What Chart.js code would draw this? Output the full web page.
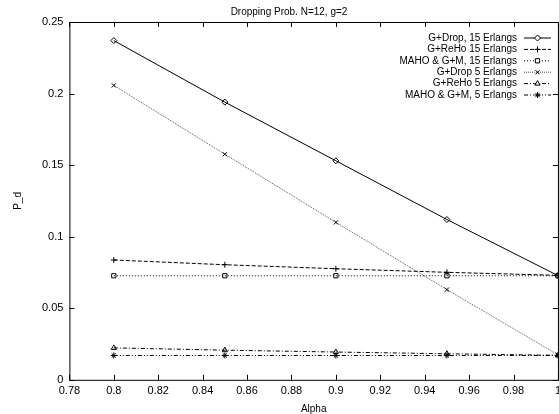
<!DOCTYPE html>
<html>
<head>
<meta charset="utf-8">
<script src="https://cdn.jsdelivr.net/npm/chart.js@4.4.1/dist/chart.umd.min.js"></script>
<style>
  html, body { margin: 0; padding: 0; background: #fff; overflow: hidden; }
  #wrap { width: 566px; height: 414px; position: relative; }
</style>
</head>
<body>
<div id="wrap"><canvas id="grafico"></canvas></div>
<script>
// data
const alpha = [0.8, 0.85, 0.9, 0.95, 1.0];
const gDrop15 = [0.237, 0.194, 0.153, 0.112, 0.0728];
const gReho15 = [0.0837, 0.0804, 0.0776, 0.0751, 0.0730];
const maho15 = [0.0727, 0.0727, 0.0727, 0.0727, 0.0727];
const gDrop5 = [0.2057, 0.1576, 0.110, 0.063, 0.0175];
const gReho5 = [0.0223, 0.0207, 0.0194, 0.0182, 0.0171];
const maho5 = [0.0170, 0.0170, 0.0170, 0.0170, 0.0170];

const seriesNames = [
  'G+Drop, 15 Erlangs',
  'G+ReHo 15 Erlangs',
  'MAHO & G+M, 15 Erlangs',
  'G+Drop 5 Erlangs',
  'G+ReHo 5 Erlangs',
  'MAHO & G+M, 5 Erlangs'
];
const xTicks = [0.78, 0.8, 0.82, 0.84, 0.86, 0.88, 0.9, 0.92, 0.94, 0.96, 0.98, 1];
const yTicks = [0, 0.05, 0.1, 0.15, 0.2, 0.25];

const estilos = [
  { ponto: 'rectRot', dash: [], cor: '#000' },
  { ponto: 'cross', dash: [4, 2], cor: '#000' },
  { ponto: 'rect', dash: [1, 2], cor: '#000' },
  { ponto: 'crossRot', dash: [1, 1], cor: '#555' },
  { ponto: 'triangle', dash: [4, 2, 1, 2], cor: '#000' },
  { ponto: 'star', dash: [4, 2, 1, 2, 1, 2], cor: '#000' }
];

const series = [gDrop15, gReho15, maho15, gDrop5, gReho5, maho5];
const fonte = 'Liberation Sans, Arial, Helvetica, sans-serif';

function montarDatasets() {
  return series.map((valores, i) => ({
    label: seriesNames[i],
    data: alpha.map((a, j) => ({ x: a, y: valores[j] })),
    borderColor: estilos[i].cor,
    borderWidth: 1,
    borderDash: estilos[i].dash,
    pointStyle: estilos[i].ponto,
    pointRadius: 3,
    pointBorderWidth: 1,
    pointBorderColor: '#000',
    pointBackgroundColor: 'rgba(0,0,0,0)',
    fill: false,
    tension: 0
  }));
}

// gnuplot style frame with inward ticks
const molduraPlugin = {
  id: 'moldura',
  afterDraw(chart) {
    const ctx = chart.ctx;
    const a = chart.chartArea;
    const sx = chart.scales.x;
    const sy = chart.scales.y;
    ctx.save();
    ctx.strokeStyle = '#000';
    ctx.lineWidth = 1;
    ctx.setLineDash([]);
    ctx.strokeRect(a.left + 0.5, a.top + 0.5, a.right - a.left, a.bottom - a.top);
    ctx.beginPath();
    xTicks.forEach(v => {
      const px = Math.round(sx.getPixelForValue(v)) + 0.5;
      ctx.moveTo(px, a.bottom); ctx.lineTo(px, a.bottom - 5);
      ctx.moveTo(px, a.top); ctx.lineTo(px, a.top + 5);
    });
    yTicks.forEach(v => {
      const py = Math.round(sy.getPixelForValue(v)) + 0.5;
      ctx.moveTo(a.left, py); ctx.lineTo(a.left + 5, py);
      ctx.moveTo(a.right, py); ctx.lineTo(a.right - 5, py);
    });
    ctx.stroke();

    // legend in the top right corner, text on the left of the sample
    ctx.font = '10px ' + fonte;
    ctx.textAlign = 'right';
    ctx.textBaseline = 'middle';
    chart.data.datasets.forEach((ds, i) => {
      const y = 38 + i * 11.4;
      ctx.fillStyle = '#000';
      ctx.fillText(ds.label, 517, y);
      ctx.beginPath();
      ctx.strokeStyle = ds.borderColor;
      ctx.setLineDash(ds.borderDash);
      ctx.moveTo(524, y); ctx.lineTo(551, y);
      ctx.stroke();
      ctx.setLineDash([]);
      ctx.strokeStyle = '#000';
      ctx.fillStyle = '#fff';
      Chart.helpers.drawPoint(ctx, { pointStyle: ds.pointStyle, radius: 3, rotation: 0, borderWidth: 1 }, 537.5, y);
    });
    ctx.restore();
  }
};

new Chart(document.getElementById('grafico'), {
  type: 'line',
  data: { datasets: montarDatasets() },
  options: {
    animation: false,
    responsive: true,
    maintainAspectRatio: false,
    layout: { padding: { left: 12, top: 0, right: 0, bottom: -1 } },
    plugins: {
      legend: { display: false },
      tooltip: { enabled: false },
      title: {
        display: true,
        text: 'Dropping Prob. N=12, g=2',
        color: '#000',
        font: { family: fonte, size: 10, weight: 'normal' },
        padding: { top: 6, bottom: 4 }
      }
    },
    scales: {
      x: {
        type: 'linear',
        min: 0.78,
        max: 1,
        afterBuildTicks: s => { s.ticks = xTicks.map(v => ({ value: v })); },
        ticks: {
          color: '#000',
          font: { family: fonte, size: 11 },
          padding: 5,
          maxRotation: 0,
          autoSkip: false,
          callback: v => String(+v.toFixed(2))
        },
        grid: { display: false, drawTicks: false },
        border: { display: false },
        title: {
          display: true,
          text: 'Alpha',
          color: '#000',
          font: { family: fonte, size: 10 },
          padding: { top: 0, bottom: 0 }
        }
      },
      y: {
        type: 'linear',
        min: 0,
        max: 0.25,
        afterBuildTicks: s => { s.ticks = yTicks.map(v => ({ value: v })); },
        ticks: {
          color: '#000',
          font: { family: fonte, size: 11 },
          padding: 6,
          autoSkip: false,
          callback: v => String(+v.toFixed(2))
        },
        grid: { display: false, drawTicks: false },
        border: { display: false },
        title: {
          display: true,
          text: 'P_d',
          color: '#000',
          font: { family: fonte, size: 10 },
          padding: { top: 0, bottom: 12 }
        }
      }
    }
  },
  plugins: [molduraPlugin]
});
</script>
</body>
</html>
